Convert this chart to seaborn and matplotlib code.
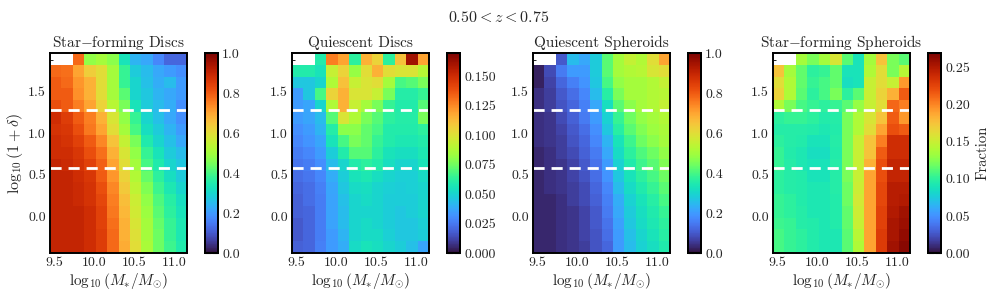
import numpy as np
import pandas as pd
import matplotlib
matplotlib.use('Agg')
import matplotlib.pyplot as plt
from matplotlib.ticker import FixedLocator, FormatStrFormatter, AutoMinorLocator
import seaborn as sns

nan = np.nan

# bin ranges (12 mass bins x 17 density bins)
mass_min, mass_max = 9.446, 11.154
delta_min, delta_max = -0.42, 1.98
n_mass, n_delta = 12, 17

# density thresholds (dashed lines)
delta_cuts = [1.30, 0.60]

mass_ticks = [9.5, 10.0, 10.5, 11.0]
delta_ticks = [0.0, 0.5, 1.0, 1.5]

titles = ['Star$-$forming Discs', 'Quiescent Discs',
          'Quiescent Spheroids', 'Star$-$forming Spheroids']
vmaxes = [1.0, 0.17, 1.0, 0.27]
cbar_ticks = [
    [0.0, 0.2, 0.4, 0.6, 0.8, 1.0],
    [0.0, 0.025, 0.05, 0.075, 0.1, 0.125, 0.15],
    [0.0, 0.2, 0.4, 0.6, 0.8, 1.0],
    [0.0, 0.05, 0.1, 0.15, 0.2, 0.25],
]
cbar_fmt = ['%.1f', '%.3f', '%.1f', '%.2f']

# fractions, rows from highest density (top) to lowest (bottom)
sf_discs = [
    [nan, nan, 0.78, 0.48, 0.50, 0.47, 0.33, 0.24, 0.22, 0.17, 0.12, 0.12],
    [0.78, 0.77, 0.70, 0.63, 0.60, 0.50, 0.38, 0.28, 0.25, 0.22, 0.20, 0.18],
    [0.80, 0.78, 0.72, 0.68, 0.60, 0.50, 0.38, 0.30, 0.26, 0.23, 0.25, 0.20],
    [0.80, 0.80, 0.73, 0.68, 0.60, 0.50, 0.42, 0.30, 0.27, 0.24, 0.22, 0.20],
    [0.82, 0.80, 0.75, 0.70, 0.62, 0.53, 0.45, 0.33, 0.28, 0.25, 0.23, 0.18],
    [0.88, 0.85, 0.80, 0.75, 0.68, 0.58, 0.48, 0.38, 0.30, 0.26, 0.22, 0.18],
    [0.87, 0.86, 0.82, 0.76, 0.70, 0.60, 0.50, 0.40, 0.32, 0.28, 0.24, 0.20],
    [0.88, 0.87, 0.84, 0.80, 0.74, 0.65, 0.55, 0.45, 0.35, 0.30, 0.26, 0.22],
    [0.88, 0.88, 0.86, 0.82, 0.77, 0.68, 0.58, 0.48, 0.38, 0.33, 0.28, 0.25],
    [0.90, 0.89, 0.87, 0.84, 0.79, 0.70, 0.60, 0.50, 0.40, 0.35, 0.30, 0.27],
    [0.90, 0.90, 0.88, 0.86, 0.80, 0.72, 0.62, 0.52, 0.43, 0.37, 0.32, 0.28],
    [0.90, 0.90, 0.89, 0.87, 0.82, 0.74, 0.64, 0.54, 0.46, 0.39, 0.34, 0.30],
    [0.90, 0.90, 0.89, 0.87, 0.83, 0.75, 0.66, 0.56, 0.48, 0.41, 0.36, 0.32],
    [0.90, 0.90, 0.90, 0.88, 0.84, 0.76, 0.67, 0.57, 0.49, 0.42, 0.37, 0.33],
    [0.90, 0.90, 0.90, 0.88, 0.84, 0.77, 0.68, 0.58, 0.50, 0.43, 0.38, 0.34],
    [0.90, 0.90, 0.90, 0.88, 0.85, 0.78, 0.68, 0.59, 0.50, 0.44, 0.38, 0.34],
    [0.90, 0.90, 0.90, 0.88, 0.85, 0.78, 0.69, 0.60, 0.51, 0.44, 0.39, 0.35],
]

q_discs = [
    [nan, nan, 0.060, 0.128, 0.119, 0.063, 0.116, 0.105, 0.063, 0.111, 0.162, 0.119],
    [0.060, 0.060, 0.056, 0.094, 0.105, 0.082, 0.102, 0.116, 0.102, 0.099, 0.099, 0.090],
    [0.046, 0.046, 0.051, 0.088, 0.111, 0.094, 0.099, 0.102, 0.085, 0.068, 0.071, 0.077],
    [0.034, 0.046, 0.068, 0.105, 0.116, 0.099, 0.099, 0.094, 0.077, 0.061, 0.061, 0.065],
    [0.034, 0.037, 0.051, 0.088, 0.116, 0.094, 0.085, 0.077, 0.065, 0.060, 0.060, 0.071],
    [0.034, 0.037, 0.043, 0.071, 0.099, 0.088, 0.077, 0.071, 0.063, 0.061, 0.061, 0.077],
    [0.031, 0.034, 0.041, 0.061, 0.080, 0.080, 0.073, 0.068, 0.060, 0.060, 0.060, 0.063],
    [0.029, 0.032, 0.037, 0.056, 0.068, 0.077, 0.073, 0.065, 0.060, 0.058, 0.058, 0.060],
    [0.026, 0.029, 0.034, 0.048, 0.060, 0.071, 0.071, 0.063, 0.056, 0.054, 0.054, 0.058],
    [0.024, 0.026, 0.031, 0.043, 0.051, 0.060, 0.063, 0.060, 0.054, 0.051, 0.051, 0.056],
    [0.022, 0.024, 0.029, 0.039, 0.048, 0.056, 0.058, 0.054, 0.051, 0.049, 0.049, 0.053],
    [0.020, 0.022, 0.027, 0.037, 0.046, 0.053, 0.054, 0.051, 0.049, 0.048, 0.049, 0.051],
    [0.019, 0.022, 0.026, 0.036, 0.044, 0.051, 0.053, 0.051, 0.048, 0.048, 0.048, 0.051],
    [0.019, 0.020, 0.026, 0.036, 0.043, 0.051, 0.051, 0.051, 0.048, 0.046, 0.048, 0.051],
    [0.017, 0.020, 0.026, 0.036, 0.043, 0.051, 0.053, 0.051, 0.048, 0.046, 0.046, 0.049],
    [0.017, 0.020, 0.026, 0.034, 0.041, 0.051, 0.053, 0.053, 0.049, 0.046, 0.046, 0.048],
    [0.019, 0.020, 0.027, 0.034, 0.039, 0.053, 0.056, 0.054, 0.051, 0.048, 0.044, 0.037],
]

q_spheroids = [
    [nan, nan, 0.10, 0.25, 0.22, 0.28, 0.42, 0.50, 0.55, 0.52, 0.60, 0.70],
    [0.02, 0.08, 0.15, 0.20, 0.20, 0.28, 0.42, 0.50, 0.52, 0.53, 0.58, 0.60],
    [0.02, 0.07, 0.12, 0.16, 0.19, 0.27, 0.40, 0.48, 0.50, 0.50, 0.52, 0.55],
    [0.04, 0.06, 0.10, 0.13, 0.17, 0.25, 0.36, 0.45, 0.50, 0.50, 0.52, 0.53],
    [0.04, 0.06, 0.09, 0.12, 0.16, 0.22, 0.32, 0.42, 0.47, 0.50, 0.52, 0.55],
    [0.04, 0.05, 0.08, 0.11, 0.15, 0.20, 0.29, 0.38, 0.44, 0.48, 0.50, 0.52],
    [0.04, 0.05, 0.07, 0.10, 0.13, 0.18, 0.27, 0.36, 0.42, 0.46, 0.49, 0.51],
    [0.04, 0.05, 0.06, 0.09, 0.12, 0.17, 0.24, 0.33, 0.39, 0.44, 0.47, 0.50],
    [0.03, 0.04, 0.06, 0.08, 0.11, 0.15, 0.22, 0.31, 0.37, 0.41, 0.44, 0.48],
    [0.03, 0.04, 0.05, 0.07, 0.10, 0.14, 0.20, 0.29, 0.35, 0.39, 0.42, 0.46],
    [0.03, 0.04, 0.05, 0.07, 0.09, 0.13, 0.19, 0.27, 0.33, 0.37, 0.40, 0.44],
    [0.03, 0.04, 0.05, 0.06, 0.08, 0.12, 0.17, 0.25, 0.31, 0.35, 0.38, 0.42],
    [0.03, 0.03, 0.04, 0.06, 0.08, 0.11, 0.16, 0.23, 0.29, 0.33, 0.36, 0.40],
    [0.03, 0.03, 0.04, 0.05, 0.07, 0.10, 0.15, 0.22, 0.28, 0.32, 0.35, 0.38],
    [0.03, 0.03, 0.04, 0.05, 0.07, 0.10, 0.14, 0.21, 0.27, 0.31, 0.34, 0.37],
    [0.03, 0.03, 0.04, 0.05, 0.07, 0.09, 0.13, 0.20, 0.26, 0.30, 0.33, 0.36],
    [0.03, 0.03, 0.04, 0.05, 0.06, 0.09, 0.12, 0.20, 0.25, 0.29, 0.32, 0.35],
]

sf_spheroids = [
    [nan, nan, 0.135, 0.122, 0.135, 0.157, 0.113, 0.089, 0.135, 0.176, 0.122, 0.113],
    [0.176, 0.135, 0.116, 0.100, 0.103, 0.116, 0.089, 0.089, 0.140, 0.162, 0.122, 0.143],
    [0.162, 0.140, 0.116, 0.103, 0.108, 0.116, 0.086, 0.089, 0.149, 0.162, 0.149, 0.194],
    [0.167, 0.140, 0.113, 0.100, 0.108, 0.122, 0.100, 0.113, 0.149, 0.167, 0.184, 0.216],
    [0.140, 0.122, 0.108, 0.103, 0.100, 0.103, 0.113, 0.130, 0.149, 0.162, 0.211, 0.203],
    [0.100, 0.103, 0.103, 0.100, 0.095, 0.097, 0.122, 0.140, 0.157, 0.176, 0.216, 0.194],
    [0.097, 0.097, 0.097, 0.095, 0.092, 0.095, 0.122, 0.140, 0.162, 0.189, 0.221, 0.216],
    [0.100, 0.097, 0.095, 0.089, 0.089, 0.097, 0.122, 0.149, 0.176, 0.203, 0.238, 0.238],
    [0.103, 0.095, 0.092, 0.086, 0.086, 0.095, 0.122, 0.149, 0.176, 0.216, 0.238, 0.238],
    [0.103, 0.097, 0.092, 0.089, 0.089, 0.097, 0.122, 0.149, 0.184, 0.221, 0.243, 0.243],
    [0.100, 0.097, 0.095, 0.089, 0.089, 0.097, 0.122, 0.149, 0.189, 0.221, 0.243, 0.243],
    [0.100, 0.097, 0.095, 0.092, 0.092, 0.097, 0.119, 0.151, 0.189, 0.224, 0.248, 0.248],
    [0.103, 0.100, 0.095, 0.092, 0.092, 0.095, 0.119, 0.154, 0.189, 0.224, 0.248, 0.251],
    [0.103, 0.100, 0.097, 0.092, 0.092, 0.095, 0.116, 0.151, 0.189, 0.227, 0.251, 0.257],
    [0.105, 0.103, 0.097, 0.095, 0.092, 0.095, 0.116, 0.149, 0.189, 0.227, 0.254, 0.259],
    [0.108, 0.103, 0.100, 0.095, 0.092, 0.092, 0.113, 0.143, 0.189, 0.230, 0.254, 0.262],
    [0.108, 0.103, 0.100, 0.095, 0.092, 0.092, 0.113, 0.140, 0.189, 0.230, 0.257, 0.265],
]

panels = [sf_discs, q_discs, q_spheroids, sf_spheroids]

sns.set_style('ticks')
plt.rcParams['font.family'] = 'serif'
plt.rcParams['font.serif'] = ['cmr10', 'DejaVu Serif']
plt.rcParams['mathtext.fontset'] = 'cm'
plt.rcParams['axes.unicode_minus'] = False
plt.rcParams['axes.formatter.use_mathtext'] = True

dx = (mass_max - mass_min) / n_mass
dy = (delta_max - delta_min) / n_delta


def mass_pos(v):
    return (np.asarray(v) - mass_min) / dx


def delta_pos(v):
    # heatmap rows run top to bottom
    return (delta_max - np.asarray(v)) / dy


W, H = 997, 300
fig = plt.figure(figsize=(W / 100, H / 100), dpi=100)
ax_left = [50, 292, 533, 773]
cb_left = [205, 447, 688, 928]
bottom, height = 47 / H, 200 / H

for i, data in enumerate(panels):
    ax = fig.add_axes([ax_left[i] / W, bottom, 137 / W, height])
    cax = fig.add_axes([cb_left[i] / W, bottom, 13 / W, height])
    df = pd.DataFrame(data)
    sns.heatmap(df, ax=ax, cbar_ax=cax, cmap='turbo', vmin=0, vmax=vmaxes[i],
                square=False)
    for yc in delta_cuts:
        ax.axhline(delta_pos(yc), color='white', lw=2, ls=(0, (4, 2.5)))

    ax.set_xlim(0, n_mass)
    ax.set_ylim(n_delta, 0)
    ax.set_xticks(mass_pos(mass_ticks))
    ax.set_xticklabels([f'{v:.1f}' for v in mass_ticks], rotation=0)
    ax.set_yticks(delta_pos(delta_ticks))
    ax.set_yticklabels([f'{v:.1f}' for v in delta_ticks], rotation=0)
    ax.xaxis.set_minor_locator(FixedLocator(mass_pos(np.arange(9.5, 11.15, 0.1))))
    ax.yaxis.set_minor_locator(FixedLocator(delta_pos(np.arange(-0.4, 1.95, 0.1))))
    ax.tick_params(which='both', direction='in', top=False, right=True,
                   labelsize=10, color='black', pad=3)
    ax.tick_params(which='major', length=4, width=0.8)
    ax.tick_params(which='minor', length=2, width=0.6)
    for sp in ax.spines.values():
        sp.set_visible(True)
        sp.set_linewidth(1.4)
        sp.set_color('black')
    ax.set_title(titles[i], fontsize=11, pad=4)
    ax.set_xlabel(r'$\log_{10}(M_{*}/M_{\odot})$', fontsize=11, labelpad=1)
    if i == 0:
        ax.set_ylabel(r'$\log_{10}(1+\delta)$', fontsize=11.5, labelpad=2)
    else:
        ax.set_ylabel('')

    cax.set_yticks(cbar_ticks[i])
    cax.yaxis.set_major_formatter(FormatStrFormatter(cbar_fmt[i]))
    cax.yaxis.set_minor_locator(AutoMinorLocator(5))
    cax.tick_params(which='both', direction='in', labelsize=10, right=True,
                    left=True, color='black', pad=3)
    cax.tick_params(which='major', length=4, width=0.8)
    cax.tick_params(which='minor', length=2, width=0.6)
    for sp in cax.spines.values():
        sp.set_visible(True)
        sp.set_linewidth(1.4)
        sp.set_color('black')
    if i == 3:
        cax.set_ylabel('Fraction', fontsize=10.5)

fig.suptitle('$0.50 < z < 0.75$', fontsize=11.5, y=0.965)
fig.savefig('out.png', dpi=100)
